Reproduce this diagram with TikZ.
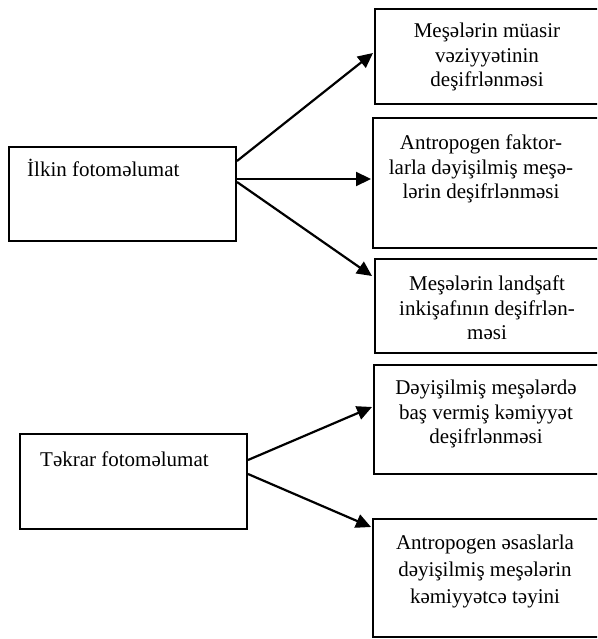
\documentclass[tikz,border=0pt]{standalone}
\usepackage{fontspec}
\setmainfont{Liberation Serif}
\usetikzlibrary{arrows.meta,calc}
\begin{document}
\begin{tikzpicture}[x=1pt,y=-1pt,
  box/.style={draw, line width=2pt, rectangle, inner sep=0pt, anchor=north west},
  lbl/.style={font=\fontsize{21}{24.3}\selectfont, align=center, inner sep=0pt},
  conn/.style={line width=2.2pt, -{Triangle[length=15pt,width=14pt]}}]
\useasboundingbox (0,0) rectangle (597,639);
\clip (0,0) rectangle (597,639);
% boxes
\node[box, minimum width=227pt, minimum height=94pt] (a) at (8,146) {};
\node[box, minimum width=240pt, minimum height=95pt] (r1) at (374,8) {};
\node[box, minimum width=240pt, minimum height=130pt] (r2) at (372,117) {};
\node[box, minimum width=240pt, minimum height=94pt] (r3) at (374,258) {};
\node[box, minimum width=227pt, minimum height=95pt] (b) at (19,433) {};
\node[box, minimum width=240pt, minimum height=109pt] (r4) at (373,364) {};
\node[box, minimum width=240pt, minimum height=118pt] (r5) at (372,518) {};
% texts
\node[lbl, anchor=base west] (ta) at (27,176) {İlkin fotoməlumat};
\node[lbl, anchor=base west] (tb) at (40,466) {Təkrar fotoməlumat};
\node[lbl] (t1) at (487,57) {Meşələrin müasir\\vəziyyətinin\\deşifrlənməsi};
\node[lbl] (t2) at (481,169) {Antropogen faktor-\\larla dəyişilmiş meşə-\\lərin deşifrlənməsi};
\node[lbl] (t3) at (487,308) {Meşələrin landşaft\\inkişafının deşifrlən-\\məsi};
\node[lbl] (t4) at (486,414) {Dəyişilmiş meşələrdə\\baş vermiş kəmiyyət\\deşifrlənməsi};
\node[lbl, font=\fontsize{21}{27}\selectfont] (t5) at (485,571) {Antropogen əsaslarla\\dəyişilmiş meşələrin\\kəmiyyətcə təyini};
% connectors
\draw[conn] ($(a.north east)+(0,15)$) -- ($(r1.north west)+(-1,45)$);
\draw[conn] ($(a.north east)+(0,33)$) -- ($(r2.north west)+(-1,62)$);
\draw[conn] ($(a.north east)+(0,36)$) -- ($(r3.north west)+(-2,18)$);
\draw[conn] ($(b.north east)+(0,27)$) -- ($(r4.north west)+(-1,43)$);
\draw[conn] ($(b.north east)+(0,41)$) -- ($(r5.north west)+(-1,9)$);
\end{tikzpicture}
\end{document}
